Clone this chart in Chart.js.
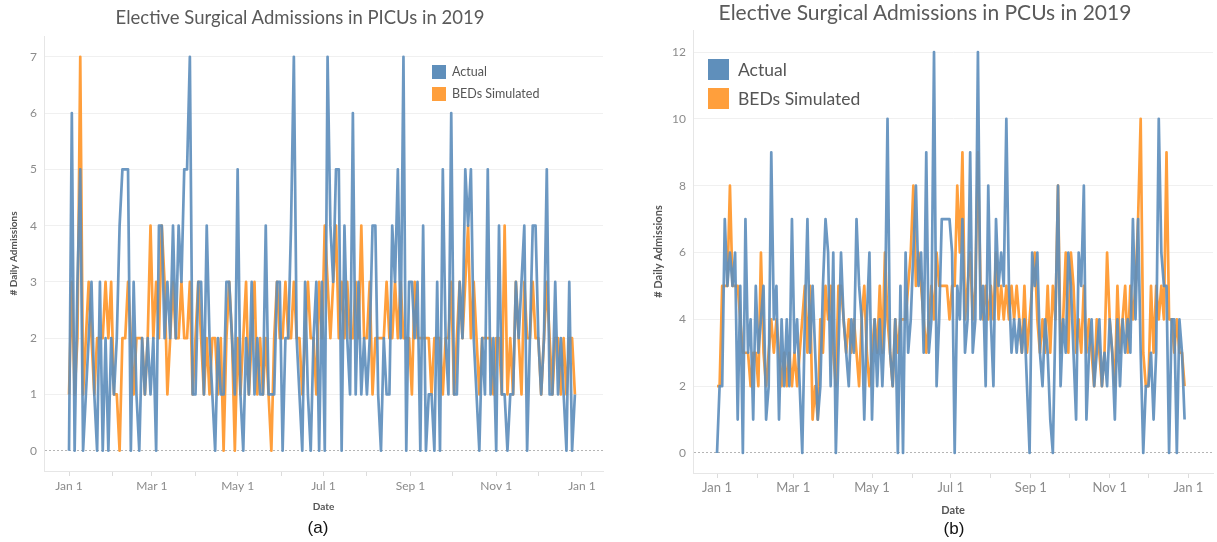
<!DOCTYPE html>
<html>
<head>
<meta charset="utf-8">
<script src="https://cdn.jsdelivr.net/npm/chart.js@4.4.1/dist/chart.umd.min.js"></script>
<style>
  body { margin: 0; background: #fff; width: 1217px; height: 542px; position: relative; overflow: hidden; font-family: Lato, "Open Sans", sans-serif; }
  .pane { position: absolute; top: 0; height: 542px; }
  .title { position: absolute; white-space: nowrap; color: #5a5a5a; font-weight: 400; transform: translate(-50%, -50%); }
  .cap { position: absolute; font-family: "Liberation Sans", Arial, sans-serif; color: #111; transform: translate(-50%, -50%); }
  .leg { position: absolute; display: flex; align-items: center; color: #555; white-space: nowrap; }
  .sw { display: inline-block; }
</style>
</head>
<body>
<div class="pane" style="left:0;width:610px"><canvas id="chartA"></canvas></div>
<div class="pane" style="left:610px;width:607px"><canvas id="chartB"></canvas></div>

<div class="title" style="left:300px;top:17px;font-size:18.5px">Elective Surgical Admissions in PICUs in 2019</div>
<div class="title" style="left:925px;top:11px;font-size:21px">Elective Surgical Admissions in PCUs in 2019</div>

<div class="leg" style="left:432px;top:64px;font-size:12.5px"><span class="sw" style="width:14px;height:14px;background:#5f8fbb;margin-right:6px"></span>Actual</div>
<div class="leg" style="left:432px;top:86px;font-size:12.5px"><span class="sw" style="width:14px;height:14px;background:#ff9f3c;margin-right:6px"></span>BEDs Simulated</div>
<div class="leg" style="left:708px;top:59px;font-size:17.5px"><span class="sw" style="width:21px;height:21px;background:#5f8fbb;margin-right:9px"></span>Actual</div>
<div class="leg" style="left:708px;top:88px;font-size:17.5px"><span class="sw" style="width:21px;height:21px;background:#ff9f3c;margin-right:9px"></span>BEDs Simulated</div>

<div class="cap" style="left:318px;top:528px;font-size:17px">(a)</div>
<div class="cap" style="left:954px;top:529px;font-size:17px">(b)</div>

<script>
// x ticks: first day of each month (day of year 2019), labels every second month
const monthStarts = [0, 31, 59, 90, 120, 151, 181, 212, 243, 273, 304, 334, 365];
const monthLabels = ['Jan 1', '', 'Mar 1', '', 'May 1', '', 'Jul 1', '', 'Sep 1', '', 'Nov 1', '', 'Jan 1'];

// PICU panel (a)
const picuDays = [0,2,4,6,8,10,12,14,16,18,20,22,24,26,28,30,32,34,36,38,40,42,44,46,48,50,52,54,56,58,
  60,62,64,66,68,70,72,74,76,78,80,82,84,86,88,90,92,94,96,98,100,102,104,106,108,110,112,114,116,118,
  120,122,124,126,128,130,132,134,136,138,140,142,144,146,148,150,152,154,156,158,160,162,164,166,168,170,172,174,176,178,
  180,182,184,186,188,190,192,194,196,198,200,202,204,206,208,210,212,214,216,218,220,222,224,226,228,230,232,234,236,238,
  240,242,244,246,248,250,252,254,256,258,260,262,264,266,268,270,272,274,276,278,280,282,284,286,288,290,292,294,296,298,
  300,302,304,306,308,310,312,314,316,318,320,322,324,326,328,330,332,334,336,338,340,342,344,346,348,350,352,354,356,358,360];
const picuActual = [0,6,0,3,5,0,1,2,3,1,0,3,0,2,0,2,1,2,4,5,5,5,0,3,1,0,2,1,2,1,
  2,0,4,4,2,3,2,4,2,4,3,5,5,7,1,1,3,3,1,4,2,1,0,2,1,1,3,3,2,1,
  5,1,0,2,1,3,1,2,1,1,4,1,1,1,3,3,0,2,2,4,7,2,1,0,3,1,0,2,3,0,
  3,0,7,4,3,5,5,0,4,2,1,6,1,3,1,2,1,2,4,4,1,0,2,1,1,4,3,5,2,7,
  0,3,3,2,3,0,4,0,1,1,0,3,0,5,2,1,6,1,1,3,2,5,4,5,2,1,0,2,1,5,
  1,2,0,4,1,1,0,1,1,3,2,3,4,0,2,4,4,2,1,2,5,1,1,3,1,2,1,0,3,0,1];
const picuSimulated = [1,3,1,2,7,1,2,3,2,1,2,2,2,3,2,3,1,1,0,2,2,3,2,1,2,2,2,1,2,4,
  2,3,2,4,3,1,2,3,2,2,3,2,2,3,1,2,3,2,1,2,1,2,2,1,2,0,2,3,2,0,
  2,1,2,3,1,2,3,1,2,1,2,1,0,2,3,2,2,3,2,2,3,2,2,1,2,3,2,2,1,3,
  2,4,3,2,3,4,2,3,2,3,2,2,3,2,4,2,2,3,1,2,2,2,2,3,2,2,3,2,3,2,
  2,2,1,3,2,2,2,2,2,1,2,2,2,1,2,2,3,1,2,3,2,3,4,2,3,2,1,2,2,2,
  2,1,2,2,1,4,1,2,1,3,2,1,3,2,2,3,2,2,1,2,3,2,1,2,2,1,2,1,2,2,1];
const picuTicks = [0, 1, 2, 3, 4, 5, 6, 7];

// PCU panel (b)
const pcuDays = [0,2,4,6,8,10,12,14,16,18,20,22,24,26,28,30,32,34,36,38,40,42,44,46,48,50,52,54,56,58,
  60,62,64,66,68,70,72,74,76,78,80,82,84,86,88,90,92,94,96,98,100,102,104,106,108,110,112,114,116,118,
  120,122,124,126,128,130,132,134,136,138,140,142,144,146,148,150,152,154,156,158,160,162,164,166,168,170,172,174,176,178,
  180,182,184,186,188,190,192,194,196,198,200,202,204,206,208,210,212,214,216,218,220,222,224,226,228,230,232,234,236,238,
  240,242,244,246,248,250,252,254,256,258,260,262,264,266,268,270,272,274,276,278,280,282,284,286,288,290,292,294,296,298,
  300,302,304,306,308,310,312,314,316,318,320,322,324,326,328,330,332,334,336,338,340,342,344,346,348,350,352,354,356,358,360,362];
const pcuActual = [0,2,2,7,5,6,5,6,1,5,0,7,3,4,1,5,3,4,5,1,2,9,4,5,1,4,2,4,2,7,
  3,4,2,0,4,7,3,5,3,1,2,5,7,6,2,6,0,3,6,4,3,2,4,3,7,5,4,1,4,6,
  1,4,2,4,2,4,10,3,2,4,0,5,0,6,3,4,6,8,5,6,3,9,3,4,12,2,4,7,7,7,
  7,6,0,5,4,7,3,4,9,3,4,12,4,5,2,8,4,2,7,5,6,5,10,5,3,4,3,4,3,4,
  2,0,6,5,6,3,2,4,3,1,0,4,8,2,4,3,6,5,3,1,6,5,8,1,3,4,2,3,4,2,
  3,2,4,3,1,4,2,4,3,4,3,7,4,7,3,0,2,2,3,1,3,10,6,5,5,0,4,4,0,4,3,1];
const pcuSimulated = [2,2,5,5,5,8,5,5,5,4,3,3,3,2,3,3,2,6,3,2,3,4,3,4,3,2,3,2,3,2,
  3,2,3,4,5,3,5,1,2,1,4,3,5,4,5,3,2,5,5,4,3,4,3,4,3,2,4,5,3,2,
  3,4,3,5,3,6,4,3,2,4,3,4,4,4,5,6,8,5,6,5,4,3,4,5,4,6,5,5,5,5,
  4,5,5,8,6,9,4,5,6,4,5,9,5,4,5,4,5,4,6,4,5,4,5,4,5,4,5,4,3,5,
  3,4,5,6,4,3,4,3,5,3,5,4,8,3,4,6,3,6,5,3,4,3,5,3,4,3,2,4,3,2,
  3,6,4,3,2,5,3,4,5,3,5,4,5,7,10,3,2,2,5,3,5,4,5,4,9,4,4,3,4,3,3,2];
const pcuTicks = [0, 2, 4, 6, 8, 10, 12];

const blue = 'rgba(92,141,187,0.9)';
const orange = '#ff9f3c';

function pairs(days, vals) {
  return days.map((d, i) => ({ x: d, y: vals[i] }));
}

function makeChart(id, cfg) {
  const ctx = document.getElementById(id).getContext('2d');
  return new Chart(ctx, {
    type: 'line',
    data: {
      datasets: [{
        label: 'Actual',
        data: pairs(cfg.days, cfg.actual),
        borderColor: blue,
        borderWidth: 2.7,
        borderJoinStyle: 'round',
        pointRadius: 0,
        tension: 0
      }, {
        label: 'BEDs Simulated',
        data: pairs(cfg.days, cfg.simulated),
        borderColor: orange,
        borderWidth: 2.7,
        borderJoinStyle: 'round',
        pointRadius: 0,
        tension: 0
      }]
    },
    options: {
      responsive: true,
      maintainAspectRatio: false,
      animation: false,
      layout: { padding: cfg.padding },
      plugins: { legend: { display: false }, tooltip: { enabled: false } },
      scales: {
        x: {
          type: 'linear',
          min: cfg.xMin,
          max: cfg.xMax,
          afterBuildTicks: axis => { axis.ticks = monthStarts.map(v => ({ value: v })); },
          afterFit: axis => { axis.height = cfg.xHeight; },
          ticks: {
            autoSkip: false,
            maxRotation: 0,
            padding: cfg.xTickPad,
            color: '#8c8c8c',
            font: { family: 'Lato', size: cfg.xFont },
            callback: (v, i) => monthLabels[i]
          },
          grid: { drawOnChartArea: false, drawTicks: true, tickLength: 5, color: '#dcdcdc' },
          border: { display: true, color: '#e6e6e6' },
          title: {
            display: true,
            text: 'Date',
            color: '#555',
            font: { family: 'Lato', size: cfg.titleFont, weight: 'bold' },
            padding: { top: 0, bottom: cfg.xTitlePad }
          }
        },
        y: {
          min: cfg.yMin,
          max: cfg.yMax,
          afterBuildTicks: axis => { axis.ticks = cfg.yTicks.map(v => ({ value: v })); },
          afterFit: axis => { axis.width = cfg.yWidth; },
          ticks: {
            padding: 7,
            color: '#8c8c8c',
            font: { family: 'Lato', size: cfg.yFont }
          },
          grid: {
            drawTicks: false,
            color: c => (c.tick && c.tick.value === 0) ? '#b5b5b5' : '#f0f0f0'
          },
          border: {
            display: true,
            color: '#e6e6e6',
            dash: c => (c.tick && c.tick.value === 0) ? [2, 2] : []
          },
          title: {
            display: true,
            text: '# Daily Admissions',
            color: '#555',
            font: { family: 'Lato', size: cfg.titleFont, weight: 'bold' },
            padding: { top: cfg.yTitlePad, bottom: 0 }
          }
        }
      }
    }
  });
}

makeChart('chartA', {
  days: picuDays, actual: picuActual, simulated: picuSimulated, yTicks: picuTicks,
  padding: { left: 0, top: 36, right: 7, bottom: 0 },
  xMin: -17.8, xMax: 380, yMin: -0.36, yMax: 7.37,
  xHeight: 71, yWidth: 44, xTickPad: 3, xTitlePad: 29, yTitlePad: 8,
  xFont: 12, yFont: 12, titleFont: 10
});

makeChart('chartB', {
  days: pcuDays, actual: pcuActual, simulated: pcuSimulated, yTicks: pcuTicks,
  padding: { left: 0, top: 30, right: 4, bottom: 0 },
  xMin: -18.6, xMax: 384, yMin: -0.6, yMax: 12.66,
  xHeight: 69, yWidth: 83, xTickPad: 2, xTitlePad: 25, yTitlePad: 42,
  xFont: 13, yFont: 12, titleFont: 11
});
</script>
</body>
</html>
